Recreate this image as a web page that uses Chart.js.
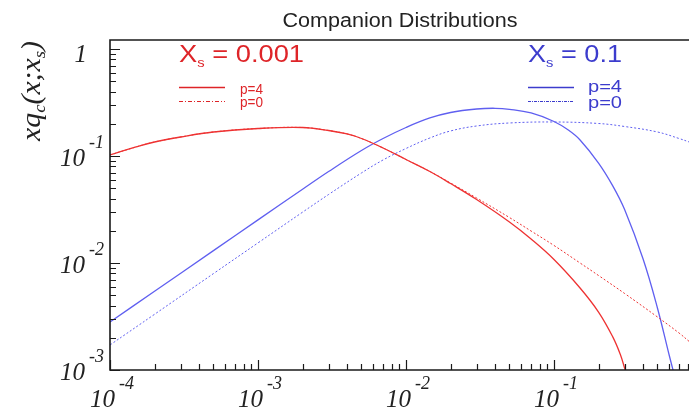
<!DOCTYPE html>
<html>
<head>
<meta charset="utf-8">
<script src="https://cdn.jsdelivr.net/npm/chart.js@4/dist/chart.umd.min.js"></script>
<style>
  body { margin: 0; background: #fff; }
  #chart-container { width: 689px; height: 408px; }
</style>
</head>
<body>
<div id="chart-container"><canvas id="companionChart" width="689" height="408"></canvas></div>
<script>
// x_s = 0.001, p = 4 (solid red)
const redSolidX = [1e-4, 1.5e-4, 2e-4, 3e-4, 5e-4, 1e-3, 2e-3, 3e-3, 4e-3, 5e-3, 7e-3, 1e-2, 1.45e-2, 2e-2, 3e-2, 5e-2, 7e-2, 0.1, 0.15, 0.2, 0.25, 0.28, 0.3, 0.32];
const redSolidY = [0.1022, 0.1214, 0.1351, 0.1505, 0.1676, 0.1807, 0.1846, 0.173, 0.1606, 0.1457, 0.1188, 0.0927, 0.0716, 0.0553, 0.0392, 0.02416, 0.01676, 0.01078, 0.00584, 0.00348, 0.00203, 0.00141, 0.00104, 0.000756];

// x_s = 0.001, p = 0 (dotted red)
const redDotX = [1e-4, 1.5e-4, 2e-4, 3e-4, 5e-4, 1e-3, 2e-3, 3e-3, 4e-3, 5e-3, 7e-3, 1e-2, 1.45e-2, 2e-2, 3e-2, 5e-2, 7e-2, 0.1, 0.15, 0.2, 0.3, 0.5, 0.7, 0.82];
const redDotY = [0.1022, 0.1214, 0.1351, 0.1505, 0.1676, 0.1807, 0.1846, 0.173, 0.1606, 0.1457, 0.1188, 0.0927, 0.0716, 0.0559, 0.0405, 0.0266, 0.0199, 0.01458, 0.0100, 0.00764, 0.00519, 0.00313, 0.002216, 0.001846];

// x_s = 0.1, p = 4 (solid blue)
const blueSolidX = [1e-4, 2e-4, 5e-4, 1e-3, 2e-3, 3e-3, 5e-3, 7e-3, 1e-2, 1.45e-2, 2e-2, 3e-2, 4e-2, 5e-2, 7e-2, 0.1, 0.125, 0.15, 0.2, 0.25, 0.3, 0.4, 0.5, 0.6, 0.65];
const blueSolidY = [0.00281, 0.00544, 0.01305, 0.02528, 0.0489, 0.0716, 0.1126, 0.1457, 0.1846, 0.2265, 0.2549, 0.2749, 0.2791, 0.2731, 0.2522, 0.2101, 0.1746, 0.1411, 0.0858, 0.0523, 0.0316, 0.0109, 0.0038, 0.00138, 0.000898];

// x_s = 0.1, p = 0 (dotted blue)
const blueDotX = [1e-4, 2e-4, 5e-4, 1e-3, 2e-3, 3e-3, 5e-3, 7e-3, 1e-2, 1.45e-2, 2e-2, 3e-2, 5e-2, 0.1, 0.2, 0.3, 0.5, 0.7, 0.82];
const blueDotY = [0.001713, 0.003316, 0.00796, 0.01541, 0.02984, 0.04368, 0.0694, 0.0918, 0.1175, 0.1473, 0.1713, 0.1907, 0.2034, 0.2078, 0.2012, 0.1886, 0.1676, 0.1457, 0.1351];

// axis decades for tick labels
const xDecades = [-4, -3, -2, -1];
const yDecades = [-3, -2, -1, 0];

const RED = 'rgb(238, 50, 50)';
const BLUE = 'rgb(95, 95, 240)';
const RED_TEXT = 'rgb(222, 36, 40)';
const BLUE_TEXT = 'rgb(60, 60, 205)';

function pairs(xs, ys) {
    return xs.map((x, i) => ({ x: x, y: ys[i] }));
}

// draw a run of text pieces (sub/superscripts), optionally stretched to a width
function drawRuns(ctx, x, y, runs, family, style, align, targetWidth) {
    let total = 0;
    runs.forEach(r => {
        ctx.font = style + ' ' + r.size + 'px ' + family;
        r.w = ctx.measureText(r.t).width;
        total += r.w;
    });
    const sx = targetWidth ? targetWidth / total : 1;
    const w = total * sx;
    let start = x;
    if (align === 'center') start = x - w / 2;
    if (align === 'right') start = x - w;
    ctx.save();
    ctx.translate(start, y);
    ctx.scale(sx, 1);
    ctx.textAlign = 'left';
    ctx.textBaseline = 'alphabetic';
    let cx = 0;
    runs.forEach(r => {
        ctx.font = style + ' ' + r.size + 'px ' + family;
        ctx.fillText(r.t, cx, r.dy || 0);
        cx += r.w;
    });
    ctx.restore();
}

const decorations = {
    id: 'decorations',
    afterDraw(chart) {
        const { ctx, chartArea: a, scales: { x, y } } = chart;
        ctx.save();

        // frame: top, left, bottom
        ctx.strokeStyle = '#1a1a1a';
        ctx.lineWidth = 1.6;
        ctx.beginPath();
        ctx.moveTo(a.right, a.top);
        ctx.lineTo(a.left, a.top);
        ctx.lineTo(a.left, a.bottom);
        ctx.lineTo(a.right, a.bottom);
        ctx.stroke();

        // inward ticks
        ctx.lineWidth = 1.2;
        ctx.beginPath();
        for (let d = -4; d <= 0; d++) {
            for (let m = 1; m <= 9; m++) {
                const v = m * Math.pow(10, d);
                if (v < x.min || v > x.max) continue;
                const px = Math.round(x.getPixelForValue(v)) + 0.5;
                const len = m === 1 ? 10 : 6;
                ctx.moveTo(px, a.bottom);
                ctx.lineTo(px, a.bottom - len);
            }
        }
        for (let d = -3; d <= 0; d++) {
            for (let m = 1; m <= 9; m++) {
                const v = m * Math.pow(10, d);
                if (v < y.min || v > y.max) continue;
                const py = Math.round(y.getPixelForValue(v)) + 0.5;
                const len = m === 1 ? 10 : 6;
                ctx.moveTo(a.left, py);
                ctx.lineTo(a.left + len, py);
            }
        }
        ctx.stroke();

        // tick labels
        ctx.fillStyle = '#222';
        const serif = '"Liberation Serif", "DejaVu Serif", serif';
        xDecades.forEach(d => {
            const px = x.getPixelForValue(Math.pow(10, d));
            ctx.font = 'italic 25px ' + serif;
            ctx.textAlign = 'right';
            ctx.fillText('10', px + 5, a.bottom + 37);
            ctx.font = 'italic 18px ' + serif;
            ctx.textAlign = 'left';
            ctx.fillText(String(d), px + 9, a.bottom + 19);
        });
        yDecades.forEach(d => {
            const py = y.getPixelForValue(Math.pow(10, d));
            if (d === 0) {
                ctx.font = 'italic 25px ' + serif;
                ctx.textAlign = 'right';
                ctx.fillText('1', 87, py + 13);
                return;
            }
            ctx.font = 'italic 25px ' + serif;
            ctx.textAlign = 'right';
            ctx.fillText('10', 85, py + 10);
            ctx.font = 'italic 18px ' + serif;
            ctx.textAlign = 'left';
            ctx.fillText(String(d), 89, py - 8);
        });

        // y axis title
        ctx.save();
        ctx.translate(40, 91);
        ctx.rotate(-Math.PI / 2);
        drawRuns(ctx, 0, 0, [
            { t: 'xq', size: 27 },
            { t: 'c', size: 17, dy: 5 },
            { t: '(x;x', size: 27 },
            { t: 's', size: 17, dy: 5 },
            { t: ')', size: 27 }
        ], serif, 'italic', 'center', 100);
        ctx.restore();

        // title
        const sans = '"Liberation Sans", Arial, sans-serif';
        ctx.fillStyle = '#222';
        drawRuns(ctx, 400, 27, [{ t: 'Companion Distributions', size: 20 }], sans, '', 'center', 235);

        // legends
        const legends = [
            { x: 179, color: RED, text: RED_TEXT, label: '0.001', head: 125, dash: [4, 2, 1, 2],
              px: 240, pSize: 14, pW: 23, y1: 94, y2: 107 },
            { x: 528, color: BLUE, text: BLUE_TEXT, label: '0.1', head: 94, dash: [3, 1, 1, 1],
              px: 588, pSize: 16, pW: 34, y1: 92, y2: 108 }
        ];
        legends.forEach(l => {
            ctx.fillStyle = l.text;
            drawRuns(ctx, l.x, 62, [
                { t: 'X', size: 24 },
                { t: 's', size: 13, dy: 5 },
                { t: ' = ' + l.label, size: 24 }
            ], sans, '', 'left', l.head);
            ctx.strokeStyle = l.text;
            ctx.lineWidth = 1.4;
            ctx.setLineDash([]);
            ctx.beginPath();
            ctx.moveTo(l.x, 87.5);
            ctx.lineTo(l.x + 46, 87.5);
            ctx.stroke();
            ctx.lineWidth = 1;
            ctx.setLineDash(l.dash);
            ctx.beginPath();
            ctx.moveTo(l.x, 101.5);
            ctx.lineTo(l.x + 46, 101.5);
            ctx.stroke();
            ctx.setLineDash([]);
            drawRuns(ctx, l.px, l.y1, [{ t: 'p=4', size: l.pSize }], sans, '', 'left', l.pW);
            drawRuns(ctx, l.px, l.y2, [{ t: 'p=0', size: l.pSize }], sans, '', 'left', l.pW);
        });

        ctx.restore();
    }
};

function initCompanionChart() {
    const ctx = document.getElementById('companionChart').getContext('2d');
    new Chart(ctx, {
        type: 'line',
        data: {
            datasets: [
                {
                    label: 'x_s = 0.001, p=0',
                    data: pairs(redDotX, redDotY),
                    borderColor: RED,
                    borderWidth: 1,
                    borderDash: [2, 2],
                    pointRadius: 0,
                    tension: 0.4
                },
                {
                    label: 'x_s = 0.1, p=0',
                    data: pairs(blueDotX, blueDotY),
                    borderColor: BLUE,
                    borderWidth: 1,
                    borderDash: [2, 2],
                    pointRadius: 0,
                    tension: 0.4
                },
                {
                    label: 'x_s = 0.001, p=4',
                    data: pairs(redSolidX, redSolidY),
                    borderColor: RED,
                    borderWidth: 1.3,
                    pointRadius: 0,
                    tension: 0.4
                },
                {
                    label: 'x_s = 0.1, p=4',
                    data: pairs(blueSolidX, blueSolidY),
                    borderColor: BLUE,
                    borderWidth: 1.3,
                    pointRadius: 0,
                    tension: 0.4
                }
            ]
        },
        options: {
            responsive: false,
            animation: false,
            layout: { padding: { left: 110, top: 40, right: 0, bottom: 38 } },
            plugins: {
                legend: { display: false },
                title: { display: false },
                tooltip: { enabled: false }
            },
            scales: {
                x: { type: 'logarithmic', min: 1e-4, max: 0.817, display: false },
                y: { type: 'logarithmic', min: 1e-3, max: 1.213, display: false }
            }
        },
        plugins: [decorations]
    });
}

document.addEventListener('DOMContentLoaded', initCompanionChart);
</script>
</body>
</html>
